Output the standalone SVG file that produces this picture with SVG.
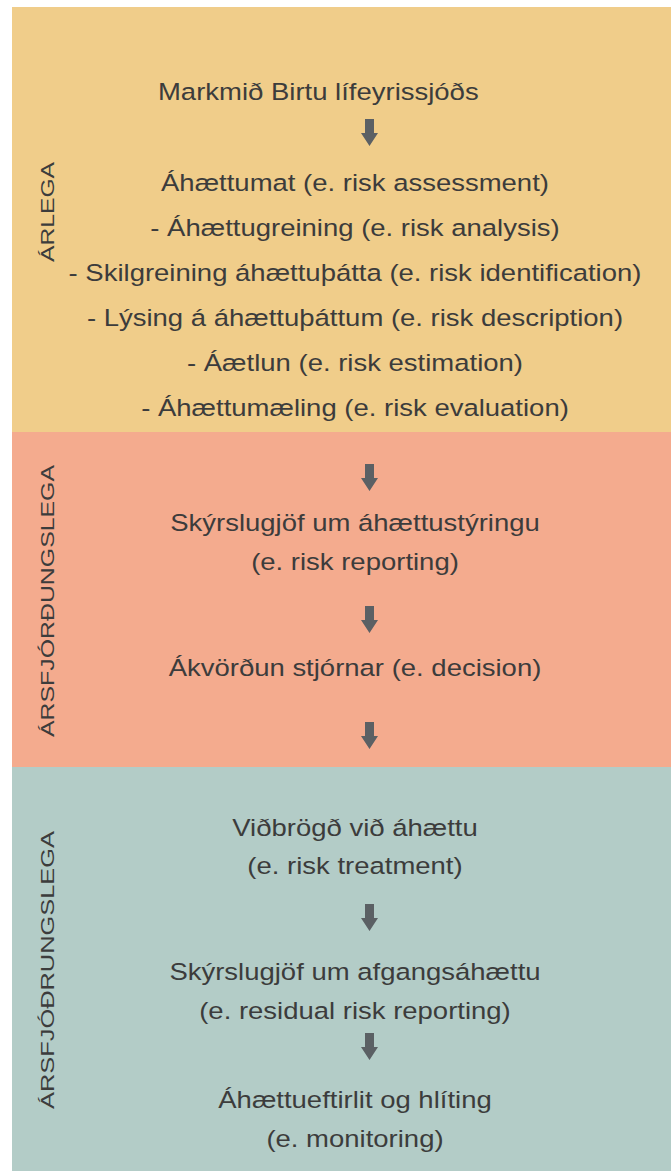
<svg xmlns="http://www.w3.org/2000/svg" xmlns:xlink="http://www.w3.org/1999/xlink" width="671" height="1171" viewBox="0 0 671 1171">
<style>
.t{font-family:"Liberation Sans",Arial,sans-serif;font-size:23.5px;fill:#3c3c3c;text-anchor:middle}
.l{font-family:"Liberation Sans",Arial,sans-serif;font-size:19px;fill:#3c3c3c;text-anchor:middle}
.a{fill:#5b6064}
</style>
<defs>
<path id="arr" d="M-4.5,0 H4.5 V14 H8.5 L0,27 L-8.5,14 H-4.5 Z"/>
</defs>
<rect width="671" height="1171" fill="#ffffff"/>
<g id="bands">
<rect x="12" y="7" width="659" height="425" fill="#F0CD8A"/>
<rect x="12" y="432" width="659" height="335" fill="#F4AB8E"/>
<rect x="12" y="767" width="659" height="404" fill="#B3CCC7"/>
</g>
<g id="labels">
<text class="l" transform="translate(54,212) rotate(-90)" textLength="100" lengthAdjust="spacingAndGlyphs">ÁRLEGA</text>
<text class="l" transform="translate(54,601) rotate(-90)" textLength="272" lengthAdjust="spacingAndGlyphs">ÁRSFJÓRÐUNGSLEGA</text>
<text class="l" transform="translate(54,970) rotate(-90)" textLength="278" lengthAdjust="spacingAndGlyphs">ÁRSFJÓÐRUNGSLEGA</text>
</g>
<g transform="matrix(1.17 0 0 1 -60.35 0)">
<g id="n-markmid"><text class="t" x="186.6" y="100" style="text-anchor:start">Markmið Birtu lífeyrissjóðs</text></g>
<g id="n-ahaettumat">
<text class="t" x="355" y="191">Áhættumat (e. risk assessment)</text>
<text class="t" x="355" y="236">- Áhættugreining (e. risk analysis)</text>
<text class="t" x="355" y="281">- Skilgreining áhættuþátta (e. risk identification)</text>
<text class="t" x="355" y="326">- Lýsing á áhættuþáttum (e. risk description)</text>
<text class="t" x="355" y="371">- Áætlun (e. risk estimation)</text>
<text class="t" x="355" y="416">- Áhættumæling (e. risk evaluation)</text>
</g>
<g id="n-skyrslugjof1">
<text class="t" x="355" y="531">Skýrslugjöf um áhættustýringu</text>
<text class="t" x="355" y="570">(e. risk reporting)</text>
</g>
<g id="n-akvordun"><text class="t" x="355" y="676">Ákvörðun stjórnar (e. decision)</text></g>
<g id="n-vidbrogd">
<text class="t" x="355" y="836">Viðbrögð við áhættu</text>
<text class="t" x="355" y="874">(e. risk treatment)</text>
</g>
<g id="n-skyrslugjof2">
<text class="t" x="355" y="980">Skýrslugjöf um afgangsáhættu</text>
<text class="t" x="355" y="1019">(e. residual risk reporting)</text>
</g>
<g id="n-eftirlit">
<text class="t" x="355" y="1108">Áhættueftirlit og hlíting</text>
<text class="t" x="355" y="1147">(e. monitoring)</text>
</g>
</g>
<g id="connectors" class="a">
<use xlink:href="#arr" x="369.5" y="119"/>
<use xlink:href="#arr" x="369.5" y="464"/>
<use xlink:href="#arr" x="369.5" y="606"/>
<use xlink:href="#arr" x="369.5" y="722"/>
<use xlink:href="#arr" x="369.5" y="904"/>
<use xlink:href="#arr" x="369.5" y="1033"/>
</g>
</svg>
